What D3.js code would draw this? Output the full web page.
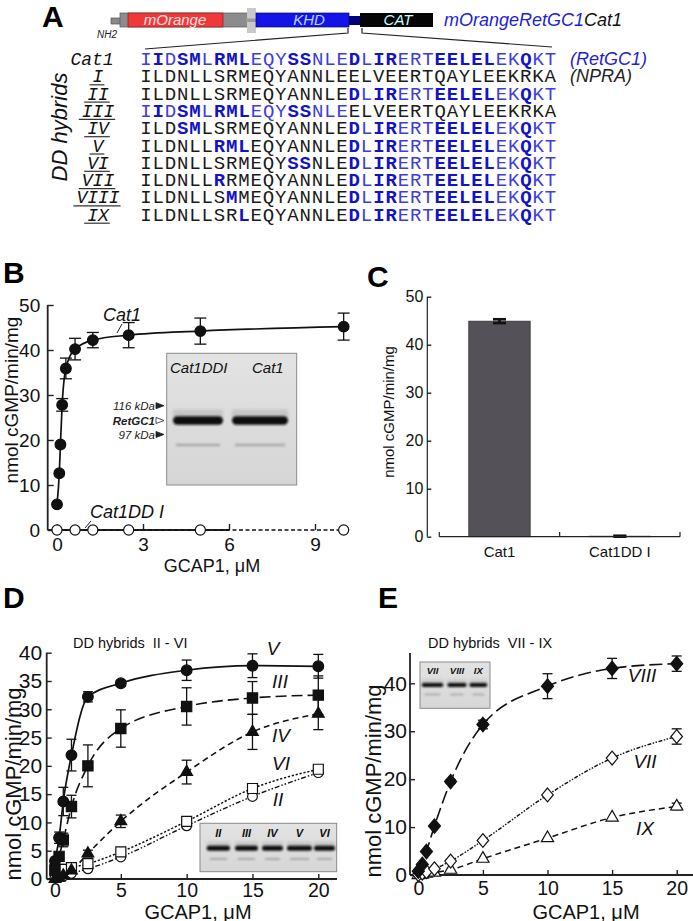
<!DOCTYPE html>
<html>
<head>
<meta charset="utf-8">
<script src="https://cdn.jsdelivr.net/npm/d3@7"></script>
<style>
body { margin: 0; background: #fff; }
svg { font-family: "Liberation Sans", Arial, sans-serif; }
.mono { font-family: "Liberation Mono", "Courier New", monospace; }
</style>
</head>
<body>
<svg id="fig" width="693" height="921"></svg>
<script>
// ---------- data ----------
// panel A: sequences
var seqRetGC1 = "IIDSMLRMLEQYSSNLEDLIRERTEELELEKQKT";
var seqNPRA   = "ILDNLLSRMEQYANNLEELVEERTQAYLEEKRKA";
var rowNames  = ["Cat1", "I", "II", "III", "IV", "V", "VI", "VII", "VIII", "IX"];
var tailRet   = [17,18,19,20,21,22,23,24,25,26,27,28,29,30,31,32,33];
var headRet   = [0,1,2,3,4,5,6,7,8,9,10,11,12,13,14,15,16];
// positions taken from RetGC1 in each row, the rest is NPRA
var rowFromRet = [
  headRet.concat(tailRet), [], tailRet, headRet,
  [3,4].concat(tailRet), [6,7,8].concat(tailRet), [12,13].concat(tailRet),
  [6].concat(tailRet), [7].concat(tailRet), [8].concat(tailRet)
];
var boldPos = [1,3,4,6,7,8,12,13,17,19,20,24,25,26,27,28,31];

// panel B
var gcapB   = [0, 0.08, 0.12, 0.18, 0.31, 0.63, 1.25, 2.5, 5, 10];
var cat1Act = [5.7, 12.6, 19, 27.8, 35.9, 40.2, 42.2, 43.3, 44.2, 45.2];
var cat1Err = [0, 0, 0, 1.4, 2.3, 2.4, 1.7, 2.8, 2.9, 3.0];
var gcapDD  = [0, 0.63, 1.25, 2.5, 5, 10];
var ddIAct  = [0, 0, 0, 0, 0, 0];

// panel C
var cCats = ["Cat1", "Cat1DD I"];
var cVals = [44.9, 0.1];
var cErrs = [0.4, 0.1];

// panel D
var gcapD   = [0, 0.31, 0.63, 1.25, 2.5, 5, 10, 15, 20];
var dV      = [3.2, 7.3, 13.7, 21.9, 32.2, 34.6, 36.9, 37.7, 37.6];
var dVErr   = [0.4, 1, 2.5, 2.8, 0.9, 0.5, 1.8, 2.1, 2.1];
var dIII    = [1.5, 4.0, 6.9, 12.8, 20, 26.6, 30.5, 32, 32.5];
var dIIIErr = [0.3, 0.5, 1.2, 2, 3.7, 3.3, 3.3, 2.9, 3.4];
var dIV     = [0, 0.2, 0.6, 1.5, 4.5, 10.2, 18.9, 26, 29.2];
var dIVErr  = [0, 0, 0.3, 0.3, 0.6, 1.1, 2.1, 3.1, 2.8];
var dVI     = [1.7, 1.7, 1.7, 2.0, 2.7, 4.8, 10.2, 16, 19.4];
var dII     = [0.2, 0.3, 0.5, 1.0, 1.8, 3.9, 9.4, 14.6, 18.8];

// panel E
var gcapE    = [0, 0.31, 0.63, 1.25, 2.5, 5, 10, 15, 20];
var eVIII    = [0.8, 2.2, 4.9, 10.2, 19.5, 31.4, 39.4, 43.1, 44.1];
var eVIIIErr = [0, 0, 0, 0, 0.4, 0.9, 2.6, 2.1, 1.6];
var eVII     = [0.1, 0.4, 0.7, 1.3, 2.9, 7.2, 16.7, 24.4, 28.9];
var eVIIErr  = [0, 0, 0, 0, 0, 0, 0, 0, 1.6];
var eIX      = [0, 0.1, 0.3, 0.5, 1.1, 3.4, 7.7, 12.0, 14.3];
var eIXErr   = [0, 0, 0, 0, 0, 0, 0, 0, 0.7];

// ---------- setup ----------
var svg = d3.select("#fig");
var defs = svg.append("defs");
defs.append("filter").attr("id", "blur1")
  .attr("x", "-20%").attr("y", "-150%").attr("width", "140%").attr("height", "400%")
  .append("feGaussianBlur").attr("stdDeviation", 0.9);
defs.append("filter").attr("id", "blur2")
  .attr("x", "-20%").attr("y", "-150%").attr("width", "140%").attr("height", "400%")
  .append("feGaussianBlur").attr("stdDeviation", 1.8);
var grad = defs.append("linearGradient").attr("id", "gelGrad")
  .attr("x1", 0).attr("y1", 0).attr("x2", 0).attr("y2", 1);
grad.append("stop").attr("offset", "0%").attr("stop-color", "#e3e3e3");
grad.append("stop").attr("offset", "100%").attr("stop-color", "#d6d6d6");

function panelLetter(x, y, t) {
  svg.append("text").attr("x", x).attr("y", y).attr("font-size", 30)
    .attr("font-weight", "bold").attr("fill", "#000").text(t);
}

function yAxis(g, y, x0, ticks, fs, pad, tick) {
  var a = g.append("g").attr("transform", "translate(" + x0 + ",0)")
    .call(d3.axisLeft(y).tickValues(ticks).tickSize(-tick).tickPadding(pad));
  a.select(".domain").remove();
  a.attr("font-family", null).attr("font-size", fs);
  a.selectAll("text").attr("fill", "#111");
  a.selectAll("line").attr("stroke", "#222").attr("stroke-width", 1.4);
}

function xAxis(g, x, y0, ticks, fs, pad, tick) {
  var a = g.append("g").attr("transform", "translate(0," + y0 + ")")
    .call(d3.axisBottom(x).tickValues(ticks).tickSize(-tick).tickPadding(pad));
  a.select(".domain").remove();
  a.attr("font-family", null).attr("font-size", fs);
  a.selectAll("text").attr("fill", "#111");
  a.selectAll("line").attr("stroke", "#222").attr("stroke-width", 1.4);
}

function axisLine(g, x1, y1, x2, y2, w) {
  g.append("line").attr("x1", x1).attr("y1", y1).attr("x2", x2).attr("y2", y2)
    .attr("stroke", "#222").attr("stroke-width", w || 1.8);
}

function yLabel(g, x, y, fs, t) {
  g.append("text").attr("transform", "translate(" + x + "," + y + ") rotate(-90)")
    .attr("text-anchor", "middle").attr("font-size", fs).attr("fill", "#111").text(t);
}

function curve(g, xs, ys, x, y, dash, w) {
  var pts = xs.map(function (d, i) { return [d, ys[i]]; });
  g.append("path").datum(pts)
    .attr("d", d3.line().x(function (d) { return x(d[0]); }).y(function (d) { return y(d[1]); })
      .curve(d3.curveMonotoneX))
    .attr("fill", "none").attr("stroke", "#111").attr("stroke-width", w || 1.6)
    .attr("stroke-dasharray", dash || null);
}

function errBars(g, xs, ys, es, x, y, cap) {
  var pts = xs.map(function (d, i) { return { x: d, y: ys[i], e: es[i] }; })
    .filter(function (d) { return d.e > 0; });
  var eb = g.selectAll(null).data(pts).enter().append("g")
    .attr("stroke", "#111").attr("stroke-width", 1.3);
  eb.append("line")
    .attr("x1", function (d) { return x(d.x); }).attr("x2", function (d) { return x(d.x); })
    .attr("y1", function (d) { return y(d.y - d.e); }).attr("y2", function (d) { return y(d.y + d.e); });
  [-1, 1].forEach(function (s) {
    eb.append("line")
      .attr("x1", function (d) { return x(d.x) - cap; }).attr("x2", function (d) { return x(d.x) + cap; })
      .attr("y1", function (d) { return y(d.y + s * d.e); }).attr("y2", function (d) { return y(d.y + s * d.e); });
  });
  return eb;
}

var diamondType = {
  draw: function (ctx, size) {
    var w = Math.sqrt(size) * 0.55, h = w * 1.2;
    ctx.moveTo(0, -h); ctx.lineTo(w, 0); ctx.lineTo(0, h); ctx.lineTo(-w, 0); ctx.closePath();
  }
};

function markers(g, xs, ys, x, y, type, size, filled) {
  g.selectAll(null).data(xs.map(function (d, i) { return [d, ys[i]]; })).enter()
    .append("path")
    .attr("d", d3.symbol().type(type).size(size))
    .attr("transform", function (d) { return "translate(" + x(d[0]) + "," + y(d[1]) + ")"; })
    .attr("fill", filled ? "#111" : "#fff")
    .attr("stroke", "#111").attr("stroke-width", 1.2);
}

function gel(g, box, lanes, labels, labelY, labelFs, bandY, bandH, faintY, faintH) {
  g.append("rect").attr("x", box[0]).attr("y", box[1])
    .attr("width", box[2] - box[0]).attr("height", box[3] - box[1])
    .attr("fill", "url(#gelGrad)").attr("stroke", "#8a8a8a").attr("stroke-width", 1);
  lanes.forEach(function (l) {
    g.append("rect").attr("x", l[0]).attr("y", bandY - bandH * 1.3)
      .attr("width", l[1] - l[0]).attr("height", bandH * 1.2)
      .attr("fill", "#999").attr("opacity", 0.35).attr("filter", "url(#blur2)");
    g.append("rect").attr("x", l[0]).attr("y", bandY - bandH / 2)
      .attr("width", l[1] - l[0]).attr("height", bandH).attr("rx", bandH / 2)
      .attr("fill", "#111").attr("filter", "url(#blur1)");
    g.append("rect").attr("x", l[0] + 3).attr("y", faintY - faintH / 2)
      .attr("width", l[1] - l[0] - 6).attr("height", faintH)
      .attr("fill", "#a8a8a8").attr("filter", "url(#blur1)");
  });
  labels.forEach(function (t, i) {
    g.append("text").attr("x", (lanes[i][0] + lanes[i][1]) / 2).attr("y", labelY)
      .attr("text-anchor", "middle").attr("font-size", labelFs)
      .attr("font-style", "italic").attr("font-weight", "bold").attr("fill", "#111").text(t);
  });
}

// ---------- panel A ----------
var gA = svg.append("g");
panelLetter(42, 27, "A");
// construct
gA.append("rect").attr("x", 111).attr("y", 18).attr("width", 10).attr("height", 6)
  .attr("fill", "#8a8a8a").attr("stroke", "#555").attr("stroke-width", 0.7);
gA.append("rect").attr("x", 120).attr("y", 13).attr("width", 128).attr("height", 14)
  .attr("fill", "#8c8c8c").attr("stroke", "#555").attr("stroke-width", 0.7);
gA.append("rect").attr("x", 128).attr("y", 13).attr("width", 95).attr("height", 14)
  .attr("fill", "#f03838").attr("stroke", "#8a1a1a").attr("stroke-width", 0.7);
gA.append("rect").attr("x", 247).attr("y", 8).attr("width", 9).attr("height", 25)
  .attr("fill", "#c9c9c9");
gA.append("rect").attr("x", 246).attr("y", 18.5).attr("width", 11).attr("height", 3.5)
  .attr("fill", "#9a9a9a");
gA.append("rect").attr("x", 256).attr("y", 13).attr("width", 93).attr("height", 14)
  .attr("fill", "#1414e6").attr("stroke", "#00008a").attr("stroke-width", 0.7);
gA.append("rect").attr("x", 349).attr("y", 16).attr("width", 12).attr("height", 9)
  .attr("fill", "#00007a");
gA.append("rect").attr("x", 360).attr("y", 13).attr("width", 73).attr("height", 14)
  .attr("fill", "#050505");
gA.append("text").attr("x", 175).attr("y", 25).attr("text-anchor", "middle")
  .attr("font-size", 15).attr("font-style", "italic").attr("fill", "#ffe3e3").text("mOrange");
gA.append("text").attr("x", 309).attr("y", 25).attr("text-anchor", "middle")
  .attr("font-size", 15).attr("font-style", "italic").attr("fill", "#b8d4ff").text("KHD");
gA.append("text").attr("x", 398).attr("y", 25).attr("text-anchor", "middle")
  .attr("font-size", 15).attr("font-style", "italic").attr("fill", "#c8ffff").text("CAT");
gA.append("text").attr("x", 97).attr("y", 38).attr("font-size", 10)
  .attr("font-style", "italic").attr("fill", "#222").text("NH2");
var tt = gA.append("text").attr("x", 444).attr("y", 26).attr("font-size", 18).attr("font-style", "italic");
tt.append("tspan").attr("fill", "#2222d4").text("mOrangeRetGC1");
tt.append("tspan").attr("fill", "#111").text("Cat1");
// fan lines
gA.append("path").attr("d", "M145,49 L348,33 L348,28 M362,28 L362,33 L552,47")
  .attr("fill", "none").attr("stroke", "#222").attr("stroke-width", 1.2);

var seqFs = 19, seqAdv = seqFs * 0.6, seqDX = 12.25;
var seqX0 = 146 - seqAdv / 2, rowY0 = 59, rowDY = 17.3;
rowNames.forEach(function (name, r) {
  var yb = rowY0 + r * rowDY + 6;
  var ret = rowFromRet[r];
  // group residues into runs of equal style
  var runs = [];
  d3.range(seqNPRA.length).forEach(function (i) {
    var fromRet = ret.indexOf(i) >= 0;
    var bold = fromRet && boldPos.indexOf(i) >= 0;
    var ch = fromRet ? seqRetGC1[i] : seqNPRA[i];
    var last = runs[runs.length - 1];
    if (last && last.ret === fromRet && last.bold === bold) last.txt += ch;
    else runs.push({ txt: ch, ret: fromRet, bold: bold });
  });
  var row = gA.append("text").attr("class", "mono").attr("x", seqX0).attr("y", yb)
    .attr("font-size", seqFs).style("letter-spacing", (seqDX - seqAdv) + "px");
  row.selectAll("tspan").data(runs).enter().append("tspan")
    .attr("font-weight", function (d) { return d.bold ? "bold" : "normal"; })
    .attr("fill", function (d) { return d.ret ? (d.bold ? "#1212c6" : "#3d3ddb") : "#1a1a1a"; })
    .text(function (d) { return d.txt; });
  var lx = r === 0 ? 92 : 98;
  var lab = gA.append("text").attr("class", "mono").attr("x", lx).attr("y", yb)
    .attr("text-anchor", "middle").attr("font-size", 18)
    .attr("font-style", "italic").attr("fill", "#111").text(name);
  if (r > 0) {
    var w = lab.node().getComputedTextLength();
    gA.append("line").attr("x1", lx - w / 2 - 3).attr("x2", lx + w / 2 + 1)
      .attr("y1", yb + 2.5).attr("y2", yb + 2.5).attr("stroke", "#333").attr("stroke-width", 1.2);
  }
});
gA.append("text").attr("transform", "translate(67,127) rotate(-90)").attr("text-anchor", "middle")
  .attr("font-size", 22).attr("font-style", "italic").attr("fill", "#111").text("DD hybrids");
gA.append("text").attr("x", 570).attr("y", rowY0 + 6).attr("font-size", 18)
  .attr("font-style", "italic").attr("fill", "#2222d4").text("(RetGC1)");
gA.append("text").attr("x", 570).attr("y", rowY0 + rowDY + 6).attr("font-size", 18)
  .attr("font-style", "italic").attr("fill", "#222").text("(NPRA)");

// ---------- panel B ----------
var gB = svg.append("g");
panelLetter(3, 283, "B");
var xB = d3.scaleLinear().domain([0, 9]).range([57, 315]);
var yB = d3.scaleLinear().domain([0, 50]).range([530, 305]);
yAxis(gB, yB, 47.7, [0, 10, 20, 30, 40, 50], 19, 7.5, 6);
xAxis(gB, xB, 530, [0, 3, 6, 9], 19, 8, 6);
axisLine(gB, 47.7, 530, 47.7, 305);
axisLine(gB, 47.7, 530, xB(6), 530);
yLabel(gB, 18, 400, 19, "nmol cGMP/min/mg");
gB.append("text").attr("x", 212).attr("y", 572).attr("text-anchor", "middle")
  .attr("font-size", 18).attr("fill", "#111").text("GCAP1, μM");
// inset gel
gel(gB, [166.7, 353.3, 296.7, 485], [[173, 223], [232, 288]], [], 0, 0, 420.5, 8.5, 445, 2.5);
gB.append("text").attr("x", 170).attr("y", 373).attr("font-size", 15).attr("font-style", "italic")
  .attr("fill", "#111").text("Cat1DDI");
gB.append("text").attr("x", 252).attr("y", 373).attr("font-size", 15).attr("font-style", "italic")
  .attr("fill", "#111").text("Cat1");
[["116 kDa", 405.7, false, true], ["RetGC1", 420.5, true, false], ["97 kDa", 434.5, false, true]]
  .forEach(function (m) {
    gB.append("text").attr("x", 155).attr("y", m[1] + 4).attr("text-anchor", "end")
      .attr("font-size", 11.5).attr("font-style", "italic")
      .attr("font-weight", m[2] ? "bold" : "normal").attr("fill", "#222").text(m[0]);
    gB.append("path").attr("d", "M156," + (m[1] - 3) + " L164," + m[1] + " L156," + (m[1] + 3) + " Z")
      .attr("fill", m[3] ? "#222" : "#fff").attr("stroke", "#222").attr("stroke-width", 0.8);
  });
// data
curve(gB, gcapDD, ddIAct, xB, yB, "4,2.5", 1.4);
curve(gB, gcapB, cat1Act, xB, yB, null, 1.7);
errBars(gB, gcapB, cat1Act, cat1Err, xB, yB, 6);
markers(gB, gcapB, cat1Act, xB, yB, d3.symbolCircle, 90, true);
markers(gB, gcapDD, ddIAct, xB, yB, d3.symbolCircle, 80, false);
gB.append("text").attr("x", 103).attr("y", 321).attr("font-size", 18).attr("font-style", "italic")
  .attr("fill", "#111").text("Cat1");
gB.append("line").attr("x1", 117).attr("y1", 333).attr("x2", 122).attr("y2", 324)
  .attr("stroke", "#222").attr("stroke-width", 1);
gB.append("text").attr("x", 90).attr("y", 518).attr("font-size", 18).attr("font-style", "italic")
  .attr("fill", "#111").text("Cat1DD I");
gB.append("line").attr("x1", 85).attr("y1", 528).attr("x2", 91).attr("y2", 521)
  .attr("stroke", "#222").attr("stroke-width", 1);

// ---------- panel C ----------
var gC = svg.append("g");
panelLetter(367, 287, "C");
var xC = d3.scaleBand().domain(cCats).range([439.3, 680]).paddingInner(0.49).paddingOuter(0.245);
var yC = d3.scaleLinear().domain([0, 50]).range([536.7, 296.7]);
gC.selectAll(null).data(cCats).enter().append("rect")
  .attr("x", function (d) { return xC(d); }).attr("width", xC.bandwidth())
  .attr("y", function (d, i) { return yC(cVals[i]); })
  .attr("height", function (d, i) { return yC(0) - yC(cVals[i]); })
  .attr("fill", "#545258").attr("stroke", "#333").attr("stroke-width", 0.8);
errBars(gC, cCats, cVals, cErrs, function (d) { return xC(d) + xC.bandwidth() / 2; }, yC, 6.5)
  .attr("stroke-width", 2.6);
yAxis(gC, yC, 427.3, [0, 10, 20, 30, 40, 50], 16, 4, 4);
axisLine(gC, 427.3, 536.7, 427.3, 296.7, 1.2);
var cAx = gC.append("g").attr("transform", "translate(0,536.7)")
  .call(d3.axisBottom(xC).tickSize(0).tickPadding(10));
cAx.select(".domain").remove();
cAx.attr("font-family", null).attr("font-size", 15);
cAx.selectAll("text").attr("fill", "#111");
axisLine(gC, xC.range()[0], 536.7, xC.range()[1], 536.7, 1.2);
var cTicks = [xC.range()[0], xC(cCats[1]) - xC.step() * xC.paddingInner() / 2, xC.range()[1]];
gC.selectAll(null).data(cTicks).enter().append("line")
  .attr("x1", function (d) { return d; }).attr("x2", function (d) { return d; })
  .attr("y1", 536.7).attr("y2", 532).attr("stroke", "#222").attr("stroke-width", 1.2);
yLabel(gC, 394, 412, 15, "nmol cGMP/min/mg");

// ---------- panel D ----------
var gD = svg.append("g");
panelLetter(3, 608, "D");
var xD = d3.scaleLinear().domain([0, 20]).range([55, 318.3]);
var yD = d3.scaleLinear().domain([0, 40]).range([879, 652.7]);
yAxis(gD, yD, 46.7, [0, 5, 10, 15, 20, 25, 30, 35, 40], 21, 4.5, 5);
xAxis(gD, xD, 879, [0, 5, 10, 15, 20], 19.5, 4, 5);
axisLine(gD, 46.7, 879, 46.7, 652.7);
axisLine(gD, 46.7, 879, 337, 879);
yLabel(gD, 21, 784, 22, "nmol cGMP/min/mg");
gD.append("text").attr("x", 198).attr("y", 918.5).attr("text-anchor", "middle")
  .attr("font-size", 20).attr("fill", "#111").text("GCAP1, μM");
gD.append("text").attr("x", 73).attr("y", 648).attr("font-size", 14.5).attr("fill", "#111")
  .style("white-space", "pre").text("DD hybrids  II - VI");
gel(gD, [200, 823.3, 336.7, 871.7], [[206.7, 230], [235, 258], [262, 283], [287, 312], [314, 335]],
  ["II", "III", "IV", "V", "VI"], 837, 11, 848.3, 5, 859, 2);
curve(gD, gcapD, dII, xD, yD, "5,2,1.5,2,1.5,2", 1.4);
curve(gD, gcapD, dVI, xD, yD, "2.2,1.8", 1.5);
curve(gD, gcapD, dIV, xD, yD, "6,4", 1.6);
curve(gD, gcapD, dIII, xD, yD, "11,5", 1.6);
curve(gD, gcapD, dV, xD, yD, null, 1.7);
errBars(gD, gcapD, dV, dVErr, xD, yD, 5);
errBars(gD, gcapD, dIII, dIIIErr, xD, yD, 5);
errBars(gD, gcapD, dIV, dIVErr, xD, yD, 5);
markers(gD, gcapD, dII, xD, yD, d3.symbolCircle, 75, false);
markers(gD, gcapD, dVI, xD, yD, d3.symbolSquare, 100, false);
markers(gD, gcapD, dIV, xD, yD, d3.symbolTriangle, 60, true);
markers(gD, gcapD, dIII, xD, yD, d3.symbolSquare, 105, true);
markers(gD, gcapD, dV, xD, yD, d3.symbolCircle, 90, true);
[["V", 273, 655], ["III", 280, 688], ["IV", 281, 742], ["VI", 281, 770], ["II", 278, 806]]
  .forEach(function (l) {
    gD.append("text").attr("x", l[1]).attr("y", l[2]).attr("text-anchor", "middle")
      .attr("font-size", 19).attr("font-style", "italic").attr("fill", "#111").text(l[0]);
  });

// ---------- panel E ----------
var gE = svg.append("g");
panelLetter(378, 608, "E");
var xE = d3.scaleLinear().domain([0, 20]).range([418.3, 676.7]);
var yE = d3.scaleLinear().domain([0, 40]).range([875, 683.3]);
yAxis(gE, yE, 410, [0, 10, 20, 30, 40], 21, 3, 5);
xAxis(gE, xE, 875, [0, 5, 10, 15, 20], 19.5, 6, 5);
axisLine(gE, 410, 875, 410, yE(46.3));
axisLine(gE, 410, 875, 693, 875);
yLabel(gE, 381, 781, 22, "nmol cGMP/min/mg");
gE.append("text").attr("x", 586).attr("y", 918.5).attr("text-anchor", "middle")
  .attr("font-size", 20).attr("fill", "#111").text("GCAP1, μM");
gE.append("text").attr("x", 428).attr("y", 648).attr("font-size", 14.5).attr("fill", "#111")
  .style("white-space", "pre").text("DD hybrids  VII - IX");
gel(gE, [420, 662, 490, 708.3], [[421.7, 443.3], [447.3, 466.7], [469.3, 487.3]],
  ["VII", "VIII", "IX"], 673.5, 9.5, 685, 4, 694.5, 1.8);
curve(gE, gcapE, eIX, xE, yE, "6,4", 1.5);
curve(gE, gcapE, eVII, xE, yE, "4,1.5,1.5,1.5,1.5,1.5", 1.4);
curve(gE, gcapE, eVIII, xE, yE, "13,5", 1.6);
errBars(gE, gcapE, eVIII, eVIIIErr, xE, yE, 5);
errBars(gE, gcapE, eVII, eVIIErr, xE, yE, 5);
errBars(gE, gcapE, eIX, eIXErr, xE, yE, 5);
markers(gE, gcapE, eIX, xE, yE, d3.symbolTriangle, 65, false);
markers(gE, gcapE, eVII, xE, yE, diamondType, 110, false);
markers(gE, gcapE, eVIII, xE, yE, diamondType, 120, true);
[["VIII", 642, 682], ["VII", 645, 768], ["IX", 645, 835]].forEach(function (l) {
  gE.append("text").attr("x", l[1]).attr("y", l[2]).attr("text-anchor", "middle")
    .attr("font-size", 19).attr("font-style", "italic").attr("fill", "#111").text(l[0]);
});
</script>
</body>
</html>
